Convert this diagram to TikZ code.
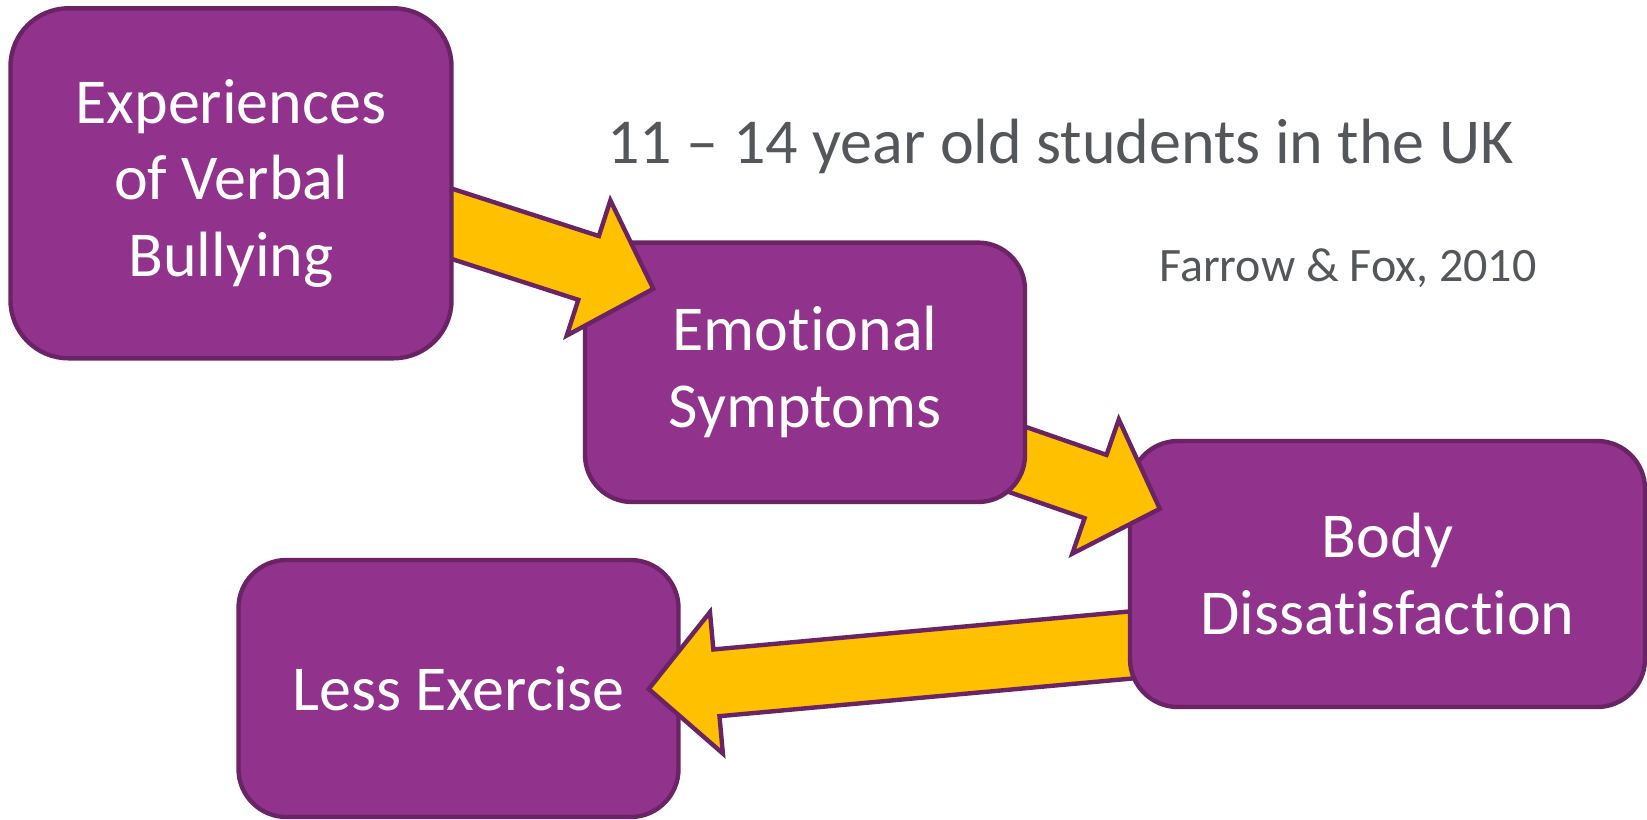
\documentclass[tikz,border=0pt]{standalone}
\usepackage{fontspec}
\setmainfont{Carlito}[Ligatures=NoCommon]
\usetikzlibrary{calc}

\pgfdeclarelayer{s1}
\pgfdeclarelayer{s2}
\pgfdeclarelayer{s3}
\pgfdeclarelayer{s4}
\pgfdeclarelayer{s5}
\pgfdeclarelayer{s6}
\pgfdeclarelayer{s7}
\pgfsetlayers{s1,s2,s3,s4,s5,s6,s7,main}

\definecolor{boxfill}{RGB}{145,50,140}
\definecolor{boxline}{RGB}{106,35,100}
\definecolor{arrowfill}{RGB}{255,192,0}
\definecolor{notegray}{RGB}{83,86,90}

\tikzset{
  stage/.style={draw=boxline, line width=2.2pt, fill=boxfill, text=white,
    align=center, inner sep=0pt, font=\fontsize{32}{38.4}\selectfont},
  fat/.style={draw=boxline, line width=2.2pt, fill=arrowfill, line join=miter},
  note/.style={text=notegray, inner sep=0pt},
}

% block arrow from #1 (tail centre) to #2 (tip)
\newcommand\fatarrow[2]{%
  \coordinate (fa) at (#1);
  \coordinate (ft) at (#2);
  \coordinate (fb) at ($(ft)!34pt!(fa)$);
  \draw[fat] ($(fa)!16.75pt!90:(ft)$) -- ($(fb)!16.75pt!-90:(fa)$)
    -- ($(fb)!35.5pt!-90:(fa)$) -- (ft) -- ($(fb)!35.5pt!90:(fa)$)
    -- ($(fb)!16.75pt!90:(fa)$) -- ($(fa)!16.75pt!-90:(ft)$) -- cycle;}

\begin{document}
\begin{tikzpicture}[x=0.5pt, y=-0.5pt]
\path[use as bounding box] (0,0) rectangle (1647,819);

\begin{pgfonlayer}{s7}
  \node[stage, minimum width=220.5pt, minimum height=175pt, rounded corners=29pt]
    (b1) at (231,183.3) {Experiences\\of Verbal\\Bullying};
\end{pgfonlayer}
\begin{pgfonlayer}{s5}
  \node[stage, minimum width=220pt, minimum height=129.7pt, rounded corners=23.5pt]
    (b2) at (805,372.3) {Emotional\\Symptoms};
\end{pgfonlayer}
\begin{pgfonlayer}{s3}
  \node[stage, minimum width=257.5pt, minimum height=133pt, rounded corners=24pt]
    (b3) at (1387.5,574) {Body\\Dissatisfaction};
\end{pgfonlayer}
\begin{pgfonlayer}{s1}
  \node[stage, minimum width=220pt, minimum height=128.5pt, rounded corners=24pt]
    (b4) at (458.5,688.5) {Less Exercise};
\end{pgfonlayer}

\begin{pgfonlayer}{s6}
  \fatarrow{$(b1.east)+(-19,35)$}{$(b2.north west)+(70.5,48.4)$}
\end{pgfonlayer}
\begin{pgfonlayer}{s4}
  \fatarrow{$(b2.east)+(-19,84)$}{$(b3.north west)+(32,70)$}
\end{pgfonlayer}
\begin{pgfonlayer}{s2}
  \fatarrow{$(b3.west)+(20,69.4)$}{$(b4.east)+(-32,0.5)$}
\end{pgfonlayer}

\node[note, anchor=base west, font=\fontsize{32}{38.4}\selectfont]
  (title) at (607,163) {11 – 14 year old students in the UK};
\node[note, anchor=base west, font=\fontsize{24}{28.8}\selectfont]
  (ref) at (1159,281) {Farrow \& Fox, 2010};
\end{tikzpicture}
\end{document}
